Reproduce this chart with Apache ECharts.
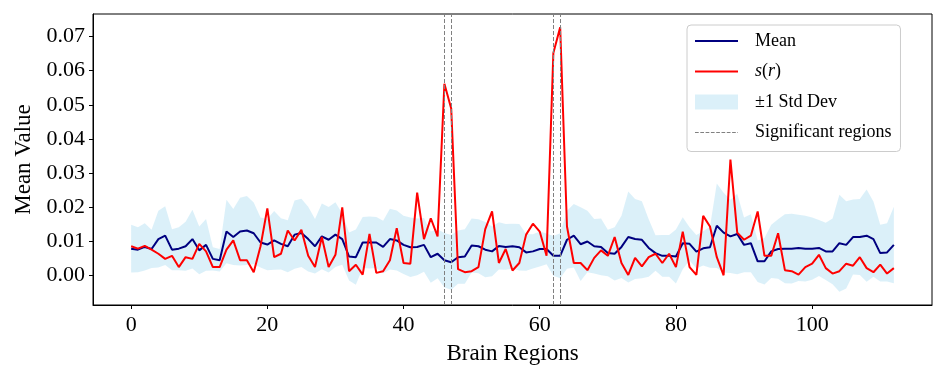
<!DOCTYPE html>
<html>
<head>
<meta charset="utf-8">
<script src="https://cdn.jsdelivr.net/npm/echarts@6/dist/echarts.min.js"></script>
<style>
html,body{margin:0;padding:0;background:#fff;}
#chart{width:947px;height:379px;}
</style>
</head>
<body>
<div id="chart"></div>
<script>
// Mean value per brain region (index = region number 0..112)
const meanValues = [
0.0079,0.0076,0.0084,0.0078,0.0107,0.0117,0.0076,0.0079,0.0086,0.0107,
0.0074,0.0090,0.0049,0.0045,0.0129,0.0113,0.0129,0.0132,0.0124,0.0097,
0.0091,0.0103,0.0093,0.0086,0.0120,0.0125,0.0107,0.0086,0.0115,0.0105,
0.0120,0.0107,0.0056,0.0054,0.0097,0.0097,0.0097,0.0084,0.0107,0.0103,
0.0090,0.0083,0.0084,0.0090,0.0054,0.0064,0.0045,0.0039,0.0054,0.0056,
0.0088,0.0086,0.0076,0.0071,0.0087,0.0084,0.0086,0.0083,0.0068,0.0071,
0.0078,0.0078,0.0058,0.0058,0.0105,0.0117,0.0092,0.0100,0.0086,0.0084,
0.0066,0.0064,0.0084,0.0113,0.0107,0.0105,0.0081,0.0066,0.0058,0.0058,
0.0056,0.0095,0.0093,0.0070,0.0080,0.0083,0.0146,0.0126,0.0115,0.0122,
0.0090,0.0095,0.0042,0.0042,0.0071,0.0078,0.0079,0.0079,0.0081,0.0079,
0.0079,0.0081,0.0071,0.0071,0.0095,0.0090,0.0113,0.0113,0.0117,0.0107,
0.0066,0.0068,0.0090
];
// s(r) per brain region
const sValues = [
0.0086,0.0079,0.0087,0.0076,0.0064,0.0049,0.0058,0.0025,0.0054,0.0049,
0.0093,0.0071,0.0025,0.0025,0.0076,0.0103,0.0045,0.0045,0.0010,0.0086,
0.0197,0.0054,0.0064,0.0132,0.0103,0.0134,0.0058,0.0025,0.0113,0.0025,
0.0061,0.0200,0.0013,0.0032,0.0003,0.0122,0.0008,0.0013,0.0045,0.0139,
0.0037,0.0035,0.0243,0.0107,0.0168,0.0115,0.0562,0.0489,0.0019,0.0010,
0.0013,0.0025,0.0136,0.0188,0.0037,0.0078,0.0015,0.0037,0.0120,0.0152,
0.0129,0.0058,0.0652,0.0727,0.0144,0.0037,0.0037,0.0016,0.0052,0.0074,
0.0058,0.0113,0.0037,0.0002,0.0052,0.0027,0.0054,0.0064,0.0037,0.0064,
0.0025,0.0129,0.0025,0.0002,0.0175,0.0144,0.0054,0.0001,0.0340,0.0126,
0.0105,0.0117,0.0188,0.0058,0.0058,0.0124,0.0016,0.0013,0.0003,0.0025,
0.0035,0.0061,0.0022,0.0006,0.0013,0.0035,0.0029,0.0054,0.0022,0.0010,
0.0032,0.0006,0.0022
];
// standard deviation per brain region (band = mean ± std)
const stdValues = [
0.0070,0.0066,0.0069,0.0056,0.0083,0.0086,0.0060,0.0063,0.0072,0.0086,
0.0070,0.0076,0.0034,0.0033,0.0093,0.0082,0.0099,0.0101,0.0090,0.0073,
0.0075,0.0086,0.0075,0.0076,0.0100,0.0100,0.0095,0.0080,0.0096,0.0096,
0.0095,0.0075,0.0070,0.0081,0.0075,0.0076,0.0075,0.0077,0.0089,0.0088,
0.0085,0.0087,0.0083,0.0079,0.0075,0.0072,0.0080,0.0080,0.0078,0.0080,
0.0079,0.0079,0.0081,0.0073,0.0069,0.0067,0.0066,0.0068,0.0054,0.0050,
0.0051,0.0045,0.0058,0.0066,0.0085,0.0093,0.0108,0.0090,0.0080,0.0083,
0.0068,0.0078,0.0091,0.0133,0.0117,0.0113,0.0084,0.0052,0.0061,0.0061,
0.0079,0.0076,0.0049,0.0049,0.0050,0.0060,0.0124,0.0117,0.0107,0.0118,
0.0080,0.0085,0.0061,0.0068,0.0078,0.0087,0.0101,0.0102,0.0097,0.0096,
0.0091,0.0082,0.0084,0.0096,0.0142,0.0128,0.0110,0.0111,0.0135,0.0110,
0.0083,0.0085,0.0112
];
const significantRegions = [46, 47, 62, 63];
const xTickValues = [0, 20, 40, 60, 80, 100];
const yTickValues = [0, 0.01, 0.02, 0.03, 0.04, 0.05, 0.06, 0.07];

const FONT = "'Liberation Serif', 'Times New Roman', 'DejaVu Serif', serif";
const BAND_COLOR = 'rgba(135,206,235,0.3)';

const meanData = meanValues.map((v, i) => [i, v]);
const sData = sValues.map((v, i) => [i, v]);
const bandData = meanValues.map((v, i) => [i, v - stdValues[i], v + stdValues[i]]);

// legend icons (thin line / dashed line shapes)
const solidIcon = 'path://M0,0H43V2H0Z';
let dashParts = [];
for (let x = 0; x < 43; x += 5.3) {
  const w = Math.min(3.7, 43 - x);
  dashParts.push('M' + x.toFixed(2) + ',0H' + (x + w).toFixed(2) + 'V1H' + x.toFixed(2) + 'Z');
}
const dashIcon = 'path://' + dashParts.join('') + 'M0,0.999H0.01V1H0Z M42.99,0.999H43V1H42.99Z';

const chart = echarts.init(document.getElementById('chart'), null, {renderer: 'canvas'});
chart.setOption({
  animation: false,
  backgroundColor: '#ffffff',
  grid: {left: 93, right: 15, top: 14, bottom: 74, show: true, borderColor: '#000', borderWidth: 1, backgroundColor: 'transparent'},
  xAxis: {
    type: 'value', min: -5.6, max: 117.6,
    name: 'Brain Regions', nameLocation: 'middle', nameGap: 37,
    nameTextStyle: {fontFamily: FONT, fontSize: 23, color: '#000'},
    axisLine: {show: true, onZero: false, lineStyle: {color: '#000', width: 1}},
    axisTick: {show: true, inside: false, length: 4, lineStyle: {color: '#000'}, customValues: xTickValues},
    axisLabel: {fontFamily: FONT, fontSize: 22, color: '#000', margin: 9, customValues: xTickValues},
    splitLine: {show: false}
  },
  yAxis: {
    type: 'value', min: -0.0086, max: 0.0766,
    name: 'Mean Value', nameLocation: 'middle', nameGap: 58, nameRotate: 90,
    nameTextStyle: {fontFamily: FONT, fontSize: 23, color: '#000'},
    axisLine: {show: true, onZero: false, lineStyle: {color: '#000', width: 1}},
    axisTick: {show: true, inside: false, length: 4, lineStyle: {color: '#000'}, customValues: yTickValues},
    axisLabel: {fontFamily: FONT, fontSize: 22, color: '#000', margin: 8, customValues: yTickValues,
      formatter: v => v.toFixed(2)},
    splitLine: {show: false}
  },
  legend: {
    orient: 'vertical', left: 687, top: 25,
    padding: [6, 9, 9, 8],
    itemWidth: 43, itemHeight: 15, itemGap: 10.5,
    backgroundColor: '#fff', borderColor: '#cccccc', borderWidth: 1, borderRadius: 4,
    textStyle: {fontFamily: FONT, fontSize: 18, color: '#000', lineHeight: 20, padding: [0, 0, 0, 12],
      rich: {i: {fontFamily: FONT, fontSize: 18, fontStyle: 'italic', color: '#000'}}},
    formatter: name => name === 's(r)' ? '{i|s}({i|r})' : name,
    data: [
      {name: 'Mean', icon: solidIcon, itemStyle: {color: '#000080'}},
      {name: 's(r)', icon: solidIcon, itemStyle: {color: '#ff0000'}},
      {name: '±1 Std Dev', icon: 'rect', itemStyle: {color: BAND_COLOR}},
      {name: 'Significant regions', icon: dashIcon, itemStyle: {color: '#808080'}}
    ]
  },
  series: [
    {
      name: '±1 Std Dev', type: 'custom', data: bandData, z: 1, silent: true,
      itemStyle: {color: BAND_COLOR},
      encode: {x: 0, y: [1, 2]},
      renderItem: function (params, api) {
        if (params.dataIndexInside !== 0) return null;
        const n = params.dataInsideLength;
        const upper = [], lower = [];
        for (let k = 0; k < n; k++) {
          upper.push(api.coord([api.value(0, k), api.value(2, k)]));
          lower.push(api.coord([api.value(0, k), api.value(1, k)]));
        }
        const pts = upper.concat(lower.reverse());
        return {
          type: 'polygon',
          shape: {points: pts},
          style: {fill: BAND_COLOR, stroke: 'none'}
        };
      }
    },
    {
      name: 'Mean', type: 'line', data: meanData, symbol: 'none', showSymbol: false,
      lineStyle: {color: '#000080', width: 2}, itemStyle: {color: '#000080'}, z: 3
    },
    {
      name: 's(r)', type: 'line', data: sData, symbol: 'none', showSymbol: false,
      lineStyle: {color: '#ff0000', width: 2}, itemStyle: {color: '#ff0000'}, z: 4
    },
    {
      name: 'Significant regions', type: 'line', data: [], symbol: 'none',
      lineStyle: {color: '#808080', width: 1, type: [4, 2]}, itemStyle: {color: '#808080'}, z: 5,
      markLine: {
        silent: true, symbol: ['none', 'none'], label: {show: false},
        lineStyle: {color: '#808080', width: 1, type: [4, 2]},
        data: significantRegions.map(r => ({xAxis: r}))
      }
    }
  ]
});
</script>
</body>
</html>
